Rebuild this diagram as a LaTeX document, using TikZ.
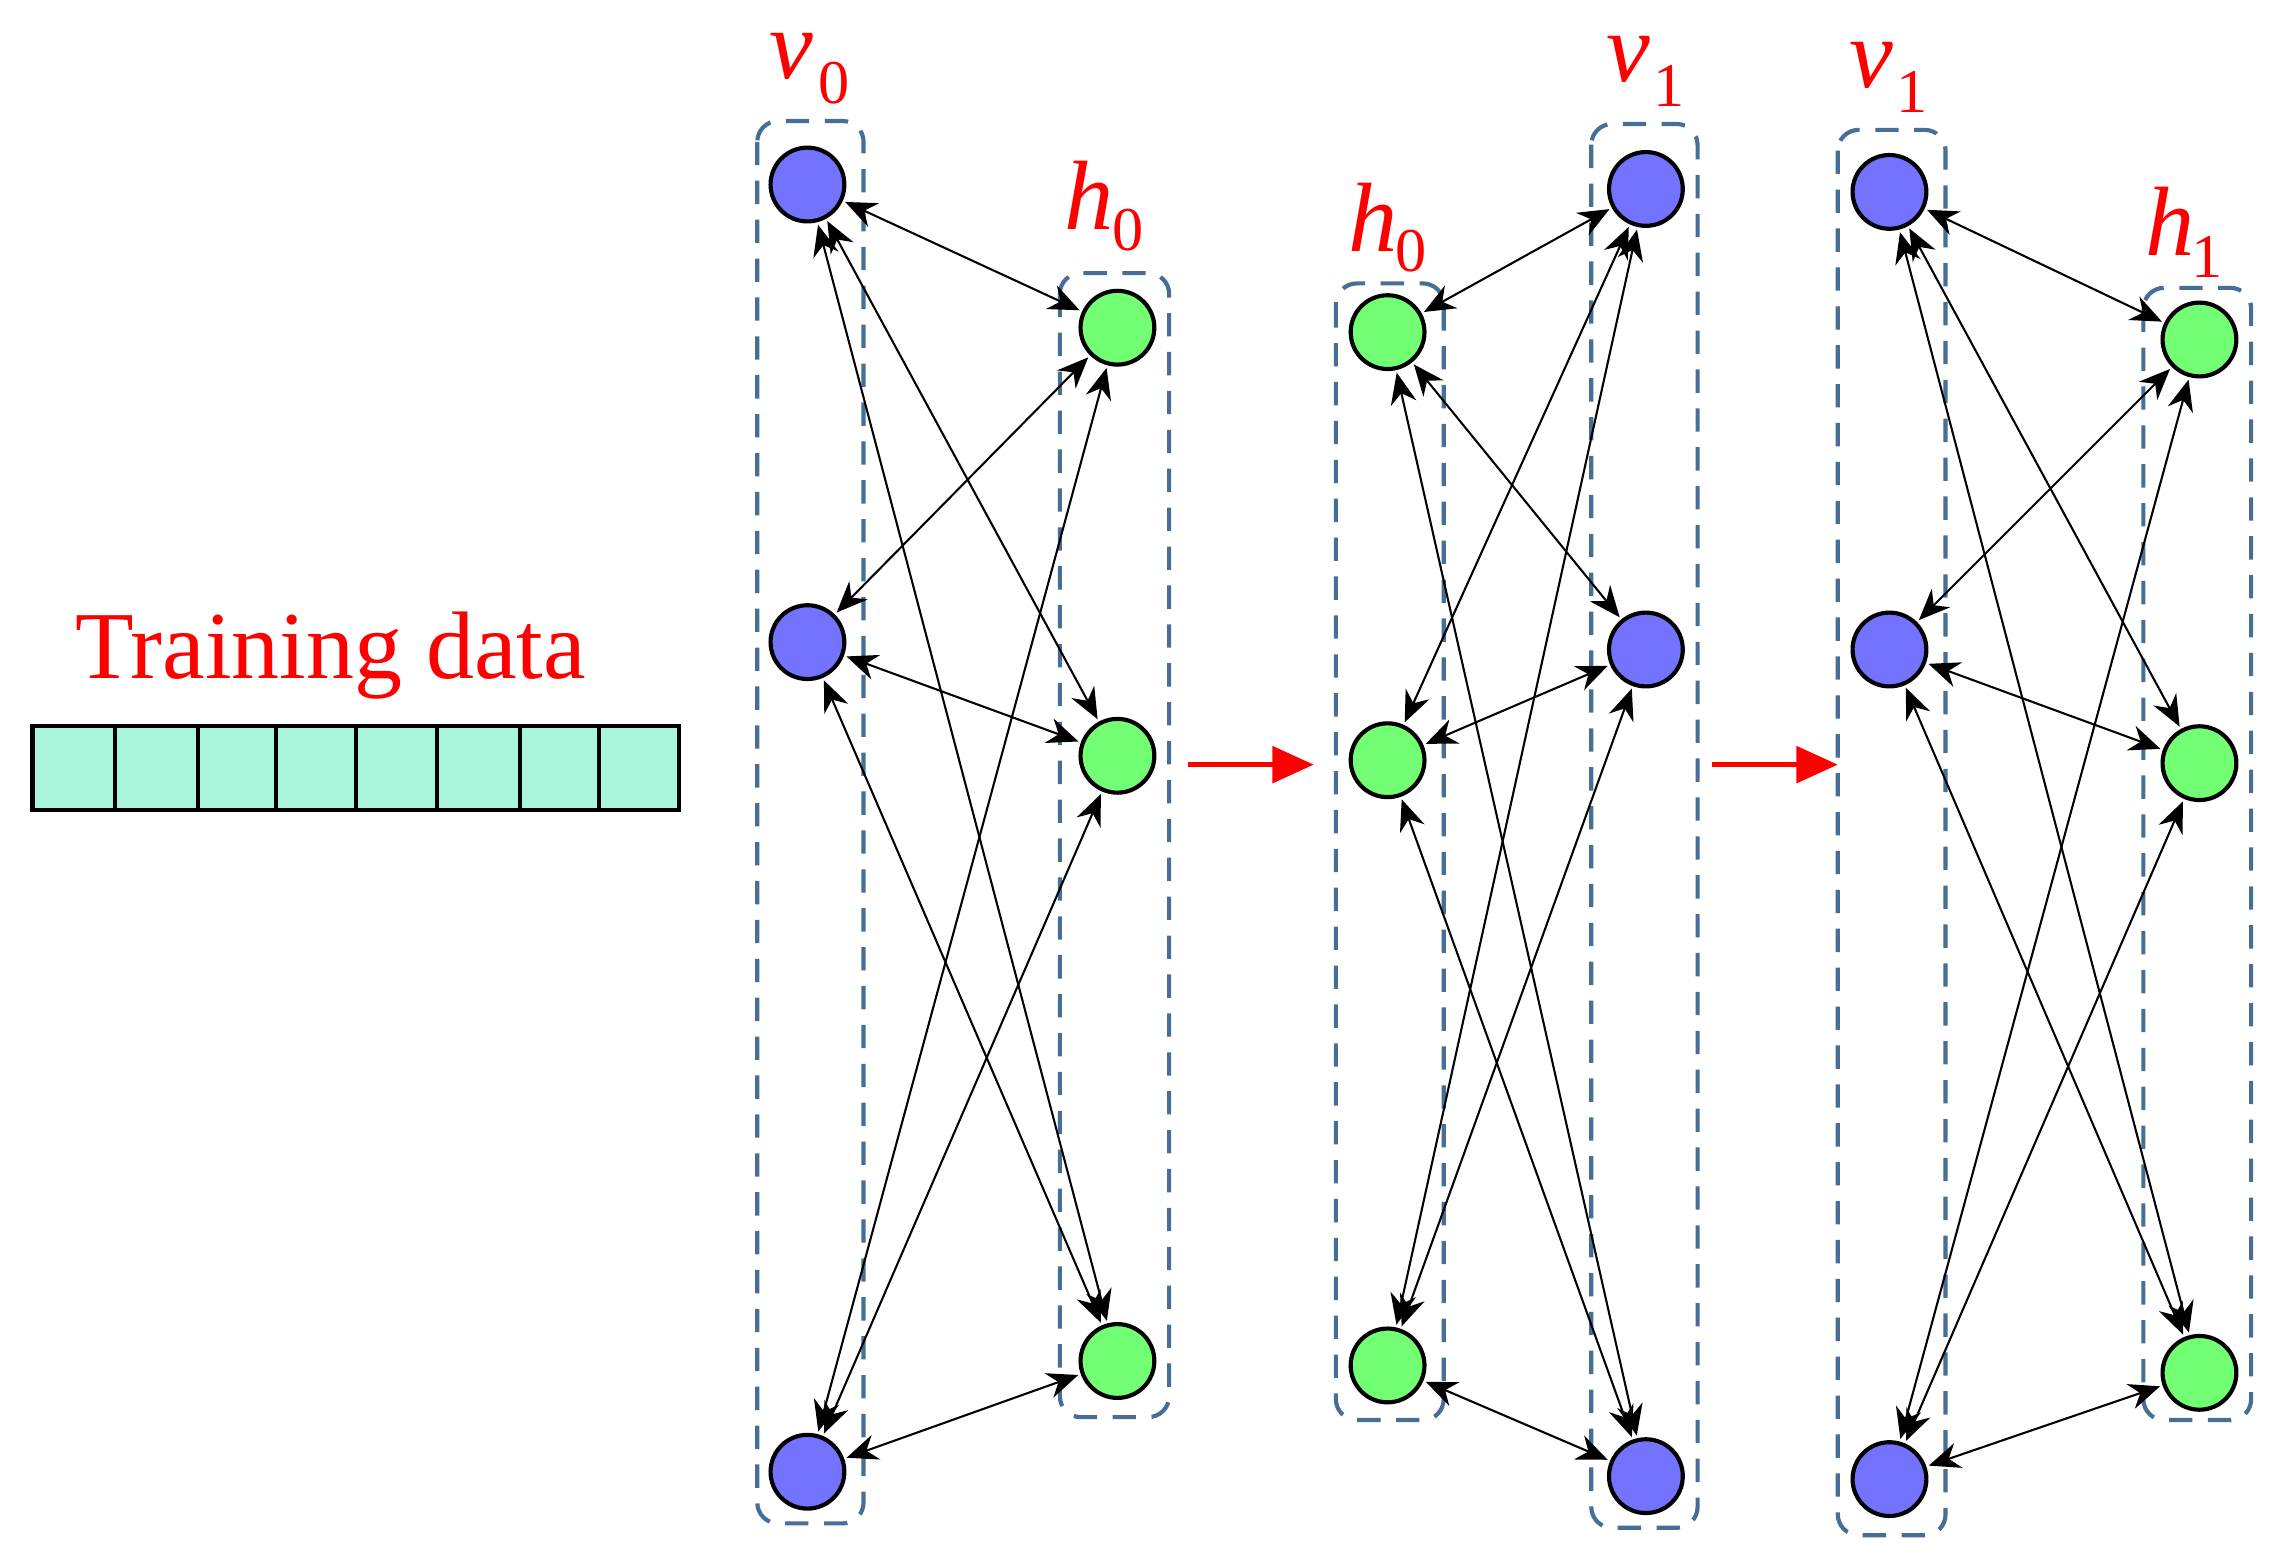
\documentclass[tikz,border=0pt]{standalone}
\usepackage{fontspec}
\setmainfont{Liberation Serif}
\usetikzlibrary{arrows.meta}
\begin{document}
\begin{tikzpicture}[x=0.02cm,y=-0.02cm,
  vis/.style={circle,draw=black,line width=1.6pt,fill=blue!55!white,minimum size=1cm,inner sep=0pt},
  hid/.style={circle,draw=black,line width=1.6pt,fill=green!55!white,minimum size=1cm,inner sep=0pt},
  grp/.style={draw={rgb,255:red,70;green,110;blue,150},dashed,line width=1.6pt,dash pattern=on 9pt off 6pt,rounded corners=8pt},
  edge/.style={{Stealth[length=12pt,width=10pt]}-{Stealth[length=12pt,width=10pt]},line width=0.8pt,shorten <=1pt,shorten >=1pt},
  lab/.style={text=red,font=\fontsize{38}{38}\selectfont\itshape,inner sep=0pt},
  sub/.style={text=red,font=\fontsize{24}{24}\selectfont,inner sep=0pt},
  redstep/.style={-{Triangle[length=16pt,width=14pt]},red,line width=2pt}]
\useasboundingbox (0,0) rectangle (1550,1045);
% groups
\draw[grp] (513,82) rectangle (585,1032);
\draw[grp] (718,185) rectangle (792,960);
\draw[grp] (905,192) rectangle (978,962);
\draw[grp] (1078,84) rectangle (1150,1035);
\draw[grp] (1245,88) rectangle (1318,1040);
\draw[grp] (1452,195) rectangle (1525,962);
% nodes
\node[vis] (a1) at (547,125) {}; \node[vis] (a2) at (547,435) {}; \node[vis] (a3) at (547,997) {};
\node[hid] (b1) at (757,222) {}; \node[hid] (b2) at (757,512) {}; \node[hid] (b3) at (757,922) {};
\node[hid] (c1) at (940,225) {}; \node[hid] (c2) at (940,515) {}; \node[hid] (c3) at (940,925) {};
\node[vis] (d1) at (1115,128) {}; \node[vis] (d2) at (1115,440) {}; \node[vis] (d3) at (1115,1000) {};
\node[vis] (e1) at (1280,130) {}; \node[vis] (e2) at (1280,440) {}; \node[vis] (e3) at (1280,1002) {};
\node[hid] (f1) at (1490,230) {}; \node[hid] (f2) at (1490,517) {}; \node[hid] (f3) at (1490,930) {};
% edges
\foreach \i in {1,2,3}{\foreach \j in {1,2,3}{
  \draw[edge] (a\i) -- (b\j);
  \draw[edge] (c\i) -- (d\j);
  \draw[edge] (e\i) -- (f\j);
}}
% labels
\node[lab] (l1) at (536,38) {v}; \node[sub] (s1) at (565,56) {0};
\node[lab] (l2) at (738,132) {h}; \node[sub] (s2) at (764,156) {0};
\node[lab] (l3) at (930,147) {h}; \node[sub] (s3) at (956,170) {0};
\node[lab] (l4) at (1103,40) {v}; \node[sub] (s4) at (1131,58) {1};
\node[lab] (l5) at (1268,44) {v}; \node[sub] (s5) at (1295,62) {1};
\node[lab] (l6) at (1470,150) {h}; \node[sub] (s6) at (1495,174) {1};
% training data
\node[text=red,font=\fontsize{37}{37}\selectfont,inner sep=0pt] (td) at (224,444) {Training data};
\draw[line width=1.6pt,fill={rgb,255:red,168;green,245;blue,220}] (22,492) rectangle (460,549);
\foreach \x in {78,134,187,241,296,352,406}{\draw[line width=1.6pt] (\x,492) -- (\x,549);}
% step arrows
\coordinate (p1) at (805,518); \coordinate (p2) at (890,518);
\coordinate (q1) at (1160,518); \coordinate (q2) at (1245,518);
\draw[redstep] (p1) -- (p2);
\draw[redstep] (q1) -- (q2);
\end{tikzpicture}
\end{document}
